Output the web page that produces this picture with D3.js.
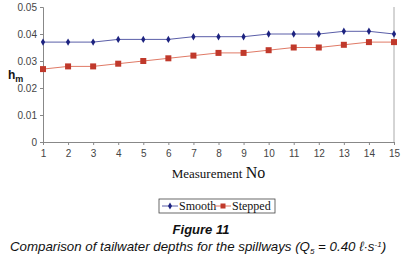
<!DOCTYPE html>
<html>
<head>
<meta charset="utf-8">
<script src="https://cdnjs.cloudflare.com/ajax/libs/d3/7.8.5/d3.min.js"></script>
<style>
  body { margin: 0; background: #fff; }
  svg { display: block; }
</style>
</head>
<body>
<div id="chart"></div>
<script>
// data
const measurements = d3.range(1, 16);
const smooth = [0.037, 0.037, 0.037, 0.038, 0.038, 0.038, 0.039, 0.039, 0.039, 0.040, 0.040, 0.040, 0.041, 0.041, 0.040];
const stepped = [0.027, 0.028, 0.028, 0.029, 0.030, 0.031, 0.032, 0.033, 0.033, 0.034, 0.035, 0.035, 0.036, 0.037, 0.037];
const yTicks = [0, 0.01, 0.02, 0.03, 0.04, 0.05];

const width = 402, height = 264;
const margin = { top: 7, left: 43, right: 8, bottom: 122 };

const svg = d3.select("#chart").append("svg")
  .attr("width", width).attr("height", height);

const x = d3.scaleLinear().domain([1, 15]).range([margin.left, width - margin.right]);
const y = d3.scaleLinear().domain([0, 0.05]).range([height - margin.bottom, margin.top]);

const axisColor = "#888";

// y axis
const yAxis = svg.append("g")
  .attr("transform", `translate(${margin.left},0)`)
  .call(d3.axisLeft(y).tickValues(yTicks).tickSize(3).tickPadding(3)
    .tickFormat(d => d === 0 ? "0" : d3.format(".2f")(d)));
yAxis.select(".domain").attr("stroke", axisColor);
yAxis.selectAll(".tick line").attr("stroke", axisColor);
yAxis.selectAll("text").attr("fill", "#444").style("font", "10px Arial, 'Liberation Sans', sans-serif");

// x axis
const xAxis = svg.append("g")
  .attr("transform", `translate(0,${y(0)})`)
  .call(d3.axisBottom(x).tickValues(measurements).tickSize(3).tickPadding(5).tickSizeOuter(0));
xAxis.select(".domain").attr("stroke", axisColor);
xAxis.selectAll(".tick line").attr("stroke", axisColor);
xAxis.selectAll("text").attr("fill", "#444").style("font", "10px Arial, 'Liberation Sans', sans-serif");

// right border of plot area
svg.append("line")
  .attr("x1", x(15)).attr("x2", x(15))
  .attr("y1", y(0.05)).attr("y2", y(0))
  .attr("stroke", "#aaa");

const line = d3.line().x((d, i) => x(measurements[i])).y(d => y(d));

// smooth series
svg.append("path").datum(smooth)
  .attr("d", line).attr("fill", "none").attr("stroke", "#5a5ea8").attr("stroke-width", 1);
svg.selectAll(".sm").data(smooth).join("path")
  .attr("class", "sm")
  .attr("transform", (d, i) => `translate(${x(measurements[i])},${y(d)})`)
  .attr("d", d3.symbol(d3.symbolDiamond, 16))
  .attr("fill", "#1d2380");

// stepped series
svg.append("path").datum(stepped)
  .attr("d", line).attr("fill", "none").attr("stroke", "#e07a66").attr("stroke-width", 1);
svg.selectAll(".st").data(stepped).join("rect")
  .attr("class", "st")
  .attr("x", (d, i) => x(measurements[i]) - 3)
  .attr("y", d => y(d) - 3)
  .attr("width", 6).attr("height", 6)
  .attr("fill", "#c0392b");

// y label h_m
const yl = svg.append("text")
  .attr("x", 8).attr("y", 79)
  .style("font", "bold 12px Arial, 'Liberation Sans', sans-serif")
  .attr("fill", "#111");
yl.append("tspan").text("h");
yl.append("tspan").attr("dy", 3).style("font-size", "9px").text("m");

// x label
svg.append("text")
  .attr("x", (x(1) + x(15)) / 2).attr("y", 178)
  .attr("text-anchor", "middle")
  .style("font", "13px 'Times New Roman', 'Liberation Serif', serif")
  .attr("fill", "#111")
  .html('Measurement <tspan style="font-size:16px">No</tspan>');

// legend
const lg = svg.append("g").attr("transform", "translate(159,199)");
lg.append("rect").attr("width", 116).attr("height", 14)
  .attr("fill", "#fff").attr("stroke", "#444").attr("stroke-width", 0.8);
const legendItems = [
  { name: "Smooth", color: "#5a5ea8", mark: "#1d2380", x: 3 },
  { name: "Stepped", color: "#e07a66", mark: "#c0392b", x: 56 }
];
legendItems.forEach((d, i) => {
  lg.append("line").attr("x1", d.x).attr("x2", d.x + 16).attr("y1", 7).attr("y2", 7)
    .attr("stroke", d.color);
  if (i === 0) {
    lg.append("path").attr("transform", `translate(${d.x + 8},7)`)
      .attr("d", d3.symbol(d3.symbolDiamond, 14)).attr("fill", d.mark);
  } else {
    lg.append("rect").attr("x", d.x + 5.5).attr("y", 4.5).attr("width", 5).attr("height", 5)
      .attr("fill", d.mark);
  }
  lg.append("text").attr("x", d.x + 17).attr("y", 10.5)
    .style("font", "12px 'Times New Roman', 'Liberation Serif', serif")
    .attr("fill", "#111").text(d.name);
});

// caption
svg.append("text")
  .attr("x", 201).attr("y", 234).attr("text-anchor", "middle")
  .style("font", "bold italic 13px Arial, 'Liberation Sans', sans-serif")
  .attr("fill", "#111").text("Figure 11");
svg.append("text")
  .attr("x", 198).attr("y", 251).attr("text-anchor", "middle")
  .style("font", "italic 13.3px Arial, 'Liberation Sans', sans-serif")
  .attr("fill", "#111")
  .html('Comparison of tailwater depths for the spillways (Q<tspan dy="3" style="font-size:8px">5</tspan><tspan dy="-3"> = 0.40 ℓ·s</tspan><tspan dy="-4" style="font-size:8px">-1</tspan><tspan dy="4">)</tspan>');
</script>
</body>
</html>
